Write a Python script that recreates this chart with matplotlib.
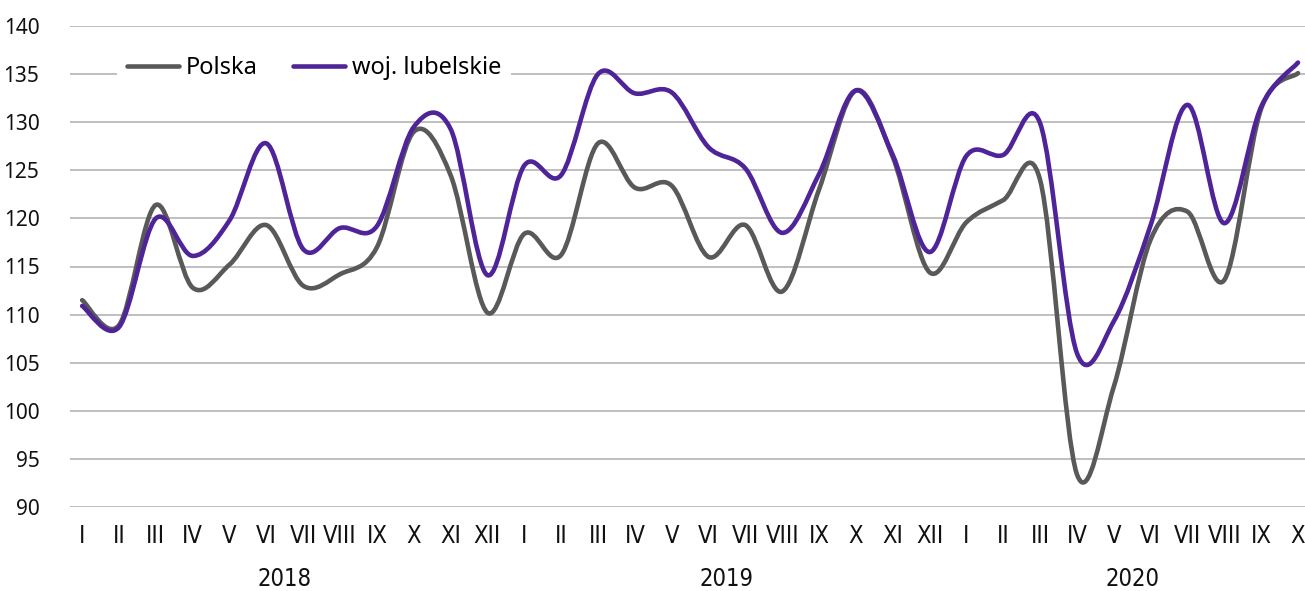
import matplotlib
matplotlib.use("Agg")
import matplotlib.pyplot as plt
from matplotlib.path import Path
from matplotlib.patches import PathPatch
from matplotlib.lines import Line2D
import matplotlib.transforms as mtransforms

# dane
months = ['I', 'II', 'III', 'IV', 'V', 'VI', 'VII', 'VIII', 'IX', 'X', 'XI', 'XII',
          'I', 'II', 'III', 'IV', 'V', 'VI', 'VII', 'VIII', 'IX', 'X', 'XI', 'XII',
          'I', 'II', 'III', 'IV', 'V', 'VI', 'VII', 'VIII', 'IX', 'X']
years = ['2018', '2019', '2020']
year_first = [0, 12, 24]
year_last = [11, 23, 33]

polska = [111.5, 108.9, 121.4, 112.8, 115.2, 119.3, 113.0, 114.2, 117.0, 129.0, 124.5, 110.2,
          118.4, 116.2, 127.8, 123.2, 123.4, 116.0, 119.3, 112.4, 123.0, 133.3, 126.4, 114.4,
          119.6, 121.9, 124.0, 93.4, 102.5, 117.8, 120.7, 113.6, 131.4, 135.1]
lubelskie = [110.9, 108.7, 120.0, 116.1, 119.8, 127.8, 116.8, 119.0, 119.2, 129.5, 129.3, 114.1,
             125.5, 124.5, 135.0, 133.0, 133.1, 127.4, 125.2, 118.5, 124.6, 133.3, 126.6, 116.5,
             126.5, 126.6, 129.9, 106.0, 109.3, 119.3, 131.8, 119.5, 131.6, 136.2]

c_pl = '#595959'
c_lub = '#4F2499'
narrow = {'family': 'DejaVu Sans', 'stretch': 'condensed'}


def smooth_path(xs, ys):
    # wygladzona linia jak w Excelu (krzywe Beziera)
    n = len(xs)
    verts = [(xs[0], ys[0])]
    codes = [Path.MOVETO]
    for i in range(n - 1):
        i0 = max(i - 1, 0)
        i3 = min(i + 2, n - 1)
        c1 = (xs[i] + (xs[i + 1] - xs[i0]) / 6, ys[i] + (ys[i + 1] - ys[i0]) / 6)
        c2 = (xs[i + 1] - (xs[i3] - xs[i]) / 6, ys[i + 1] - (ys[i3] - ys[i]) / 6)
        verts += [c1, c2, (xs[i + 1], ys[i + 1])]
        codes += [Path.CURVE4] * 3
    return Path(verts, codes)


fig = plt.figure(figsize=(13.05, 5.91), dpi=100)
ax = fig.add_axes([70 / 1305, 84 / 591, 1235 / 1305, 481 / 591])

x = list(range(len(months)))
for vals, col in [(polska, c_pl), (lubelskie, c_lub)]:
    ax.add_patch(PathPatch(smooth_path(x, vals), fill=False, edgecolor=col,
                           lw=3.3, capstyle='round', joinstyle='round', zorder=3))

ax.set_xlim(-0.33, 33.19)
ax.set_ylim(90, 140)
ax.set_yticks(range(90, 141, 5))
ax.yaxis.grid(True, color='#BFBFBF', lw=1.4)
ax.set_axisbelow(True)
for s in ax.spines.values():
    s.set_visible(False)

ax.set_xticks(x)
ax.set_xticklabels(months, fontsize=17, color='#111111', **narrow)
ax.tick_params(axis='x', length=0, pad=12)
ax.tick_params(axis='y', length=0, pad=22, labelsize=15, labelcolor='#111111')
for lab in ax.get_yticklabels():
    lab.set_family('Noto Sans')

trans = mtransforms.blended_transform_factory(ax.transData, fig.transFigure)
for name, a, b in zip(years, year_first, year_last):
    ax.text((a + b) / 2, 5 / 591, name, transform=trans, ha='center', va='baseline',
            fontsize=17, color='#111111', **narrow)

handles = [Line2D([], [], color=c_pl, lw=3.3, solid_capstyle='round'),
           Line2D([], [], color=c_lub, lw=3.3, solid_capstyle='round')]
leg = ax.legend(handles, ['Polska', 'woj. lubelskie'], ncol=2, loc='center',
                bbox_to_anchor=(0.1976, 0.913), frameon=True, facecolor='white',
                edgecolor='none', framealpha=1, fancybox=False,
                handlelength=2.2, handletextpad=0.3, columnspacing=1.5,
                prop={'family': 'Noto Sans', 'size': 17})

plt.savefig('out.png', dpi=100)
